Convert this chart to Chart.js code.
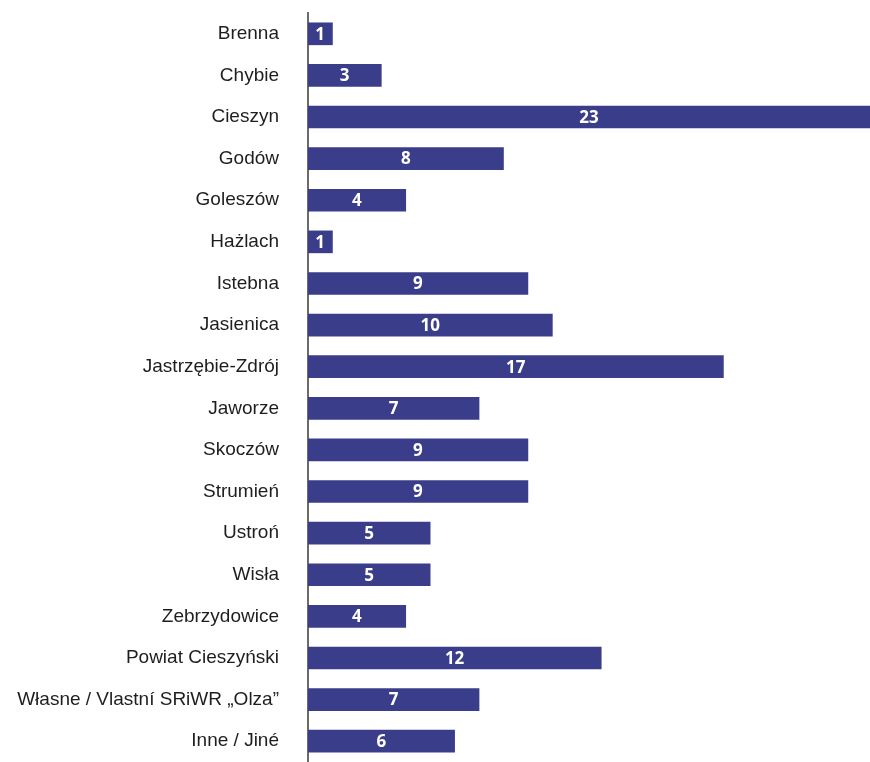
<!DOCTYPE html>
<html>
<head>
<meta charset="utf-8">
<script src="https://cdn.jsdelivr.net/npm/chart.js@4"></script>
<style>
  html, body { margin: 0; padding: 0; background: #fff; overflow: hidden; }
  canvas { display: block; }
</style>
</head>
<body>
<canvas id="barChart" width="870" height="762"></canvas>
<script>
const categories = [
  'Brenna', 'Chybie', 'Cieszyn', 'Godów', 'Goleszów', 'Hażlach', 'Istebna',
  'Jasienica', 'Jastrzębie-Zdrój', 'Jaworze', 'Skoczów', 'Strumień', 'Ustroń',
  'Wisła', 'Zebrzydowice', 'Powiat Cieszyński', 'Własne / Vlastní SRiWR „Olza”', 'Inne / Jiné'
];
const values = [1, 3, 23, 8, 4, 1, 9, 10, 17, 7, 9, 9, 5, 5, 4, 12, 7, 6];

const barColor = '#3a3d8a';

// white value labels centred inside each bar
const valueLabels = {
  id: 'valueLabels',
  afterDatasetsDraw(chart) {
    const ctx = chart.ctx;
    const meta = chart.getDatasetMeta(0);
    ctx.save();
    ctx.fillStyle = '#ffffff';
    ctx.font = 'bold 17px "Open Sans", sans-serif';
    ctx.textAlign = 'center';
    ctx.textBaseline = 'middle';
    meta.data.forEach((bar, i) => {
      const x = (bar.x + bar.base) / 2;
      ctx.fillText(String(values[i]), x, bar.y + 1);
    });
    ctx.restore();
  }
};

const ctx = document.getElementById('barChart').getContext('2d');
const BarChart = new Chart(ctx, {
  type: 'bar',
  data: {
    labels: categories,
    datasets: [
      {
        data: values,
        backgroundColor: barColor,
        barThickness: 22,
      },
    ],
  },
  options: {
    indexAxis: 'y',
    responsive: false,
    animation: false,
    layout: {
      padding: { top: 13, right: 0, bottom: 0, left: 0 },
    },
    plugins: {
      legend: { display: false },
      tooltip: { enabled: false },
    },
    scales: {
      x: {
        display: false,
        min: 0,
        max: 23,
        grid: { display: false },
      },
      y: {
        z: 1,
        afterFit(axis) {
          axis.width = 308;
          axis.paddingTop = 0;
          axis.paddingBottom = 0;
        },
        grid: {
          display: false,
          drawTicks: false,
        },
        border: {
          display: true,
          color: '#6b6b6b',
          width: 2,
        },
        ticks: {
          padding: 29,
          autoSkip: false,
          color: '#1e1e1e',
          font: {
            family: '"Liberation Sans Narrow", "Liberation Sans", sans-serif',
            size: 19,
          },
        },
      },
    },
  },
  plugins: [valueLabels],
});
</script>
</body>
</html>
